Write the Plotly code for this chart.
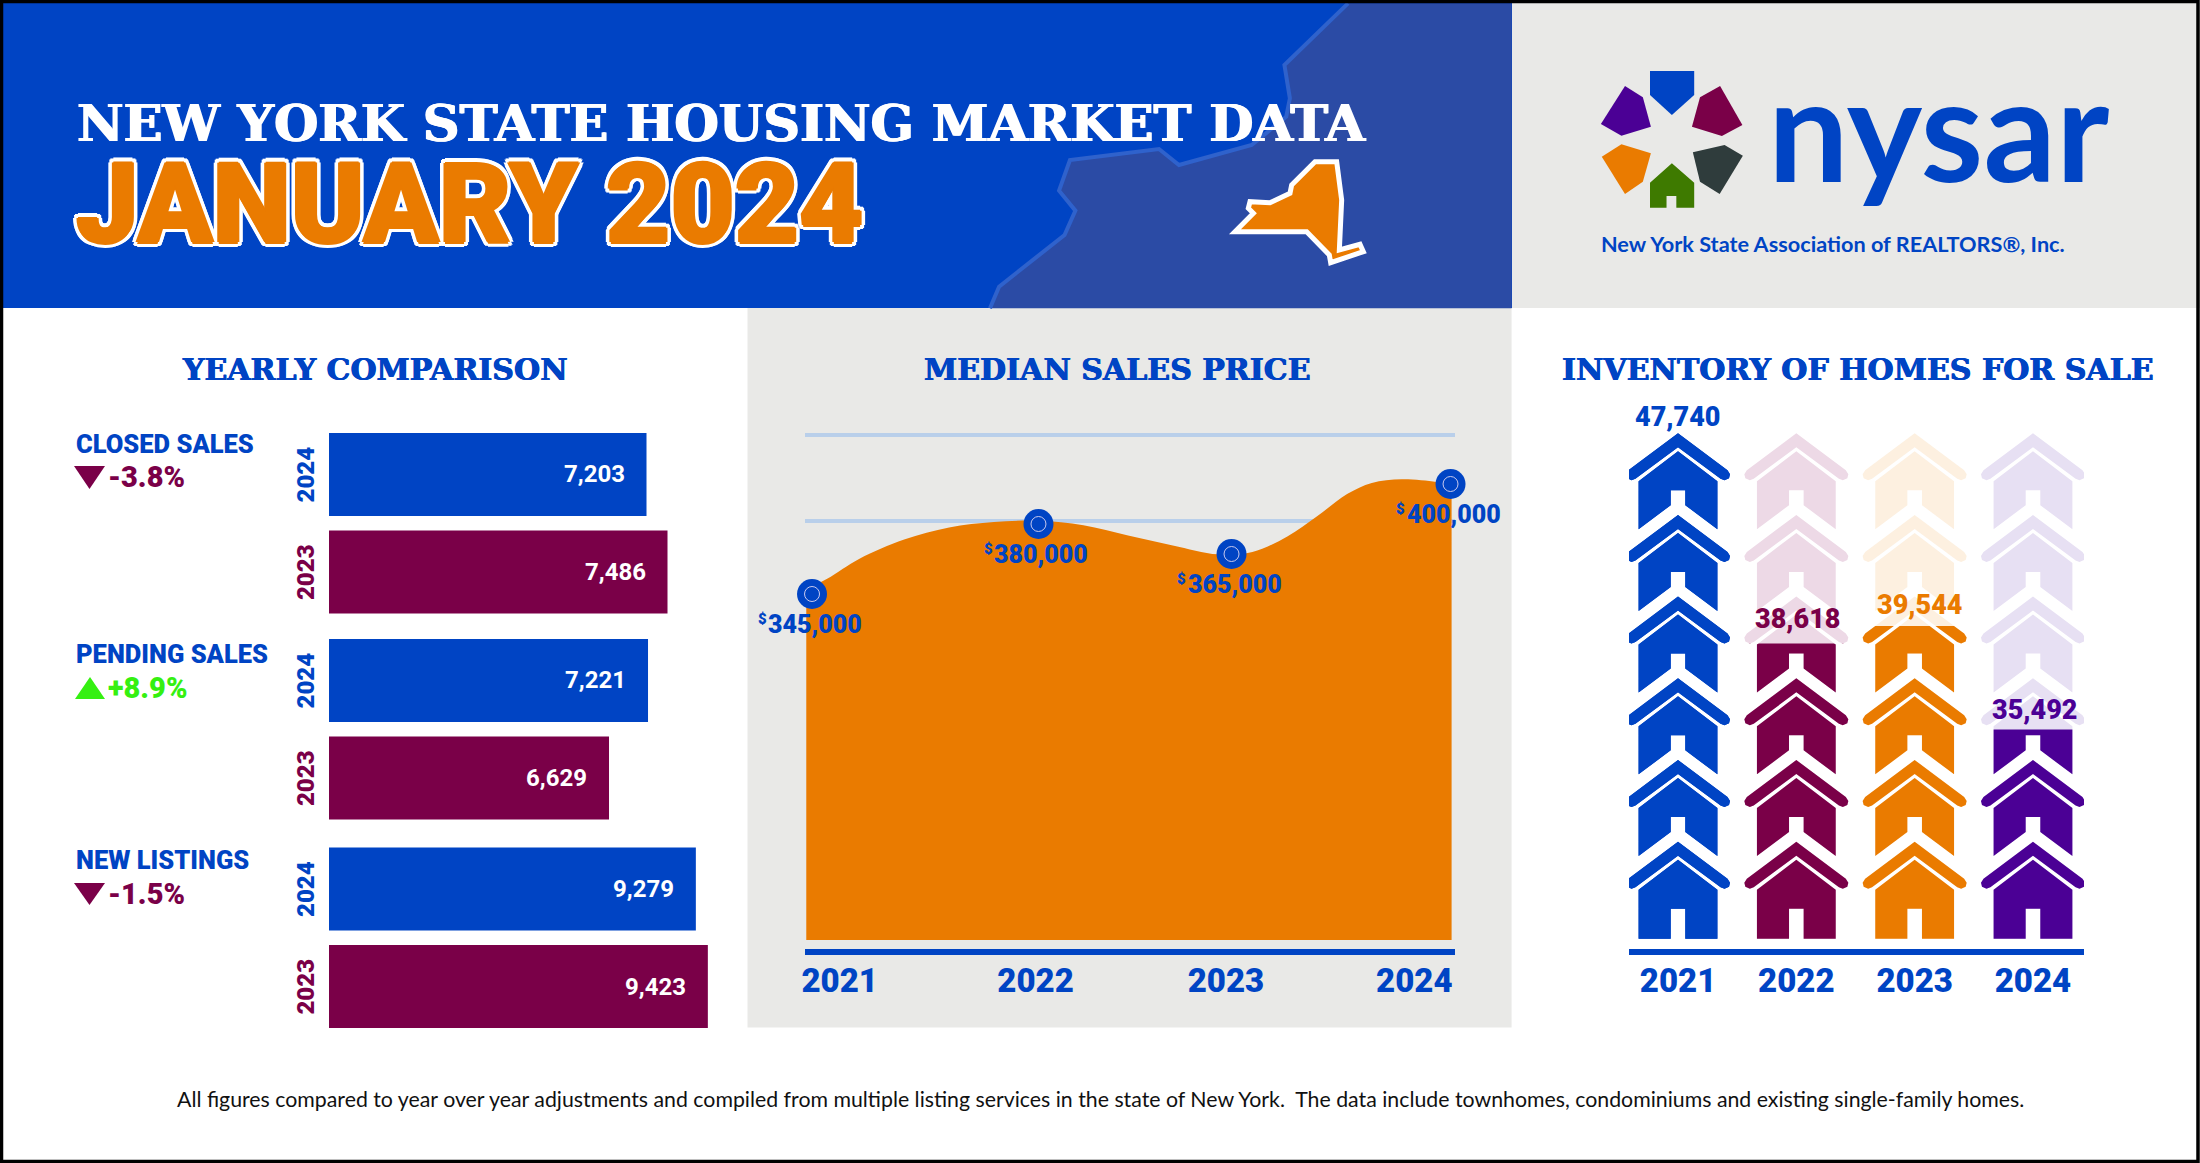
import plotly.graph_objects as go

# ---------- data ----------
bar_groups = ["CLOSED SALES", "PENDING SALES", "NEW LISTINGS"]
bar_years = [2024, 2023]
values_2024 = [7203, 7221, 9279]
values_2023 = [7486, 6629, 9423]
pct_change = ["-3.8%", "+8.9%", "-1.5%"]

price_years = [2021.0, 2022.064, 2022.971, 2024.0]
price_values = [345000, 380000, 365000, 400000]
price_curve_x = [2020.973, 2021.071, 2021.223, 2021.433, 2021.644, 2021.854, 2022.064, 2022.275, 2022.485,
                 2022.695, 2022.906, 2023.069, 2023.233, 2023.373, 2023.514, 2023.630, 2023.771, 2023.934, 2024.005]
price_curve_y = [347450, 352600, 362625, 372200, 378250, 380950, 381600, 379350, 374250,
                 369300, 364850, 366000, 373800, 383850, 395000, 400550, 402350, 401000, 399500]
price_tick_pos = [2021.13, 2022.05, 2022.945, 2023.83]
year_labels = ["2021", "2022", "2023", "2024"]

inv_years = [2021, 2022, 2023, 2024]
inv_values = [47740, 38618, 39544, 35492]

# ---------- styles ----------
BLUE, MAROON, ORANGE, PURPLE = "#0044C4", "#7A0048", "#EA7B00", "#4B0095"
GREEN = "#35F011"
GRAY = "#E9E9E7"
DARKBLUE = "#2B4BA5"
EDGE = "#2F62CC"
FADED = ["#0044C4", "#EDD9E6", "#FDF0E0", "#E7E0F3"]
INV_COL = [BLUE, MAROON, ORANGE, PURPLE]
W, H = 2200, 1163
SLAB = "DejaVu Serif"
HEAVY = "Roboto"


def px(x):
    return x / W


def py(y):
    return 1 - y / H


shapes, anns = [], []


def poly(pts, fill, line=None, lw=0, layer="below", close=True):
    d = "M" + " L".join(f"{px(x):.5f},{py(y):.5f}" for x, y in pts) + (" Z" if close else "")
    shapes.append(dict(type="path", path=d, xref="paper", yref="paper", fillcolor=fill, layer=layer,
                       line=dict(color=line or fill, width=lw)))


def rect(x0, y0, x1, y1, fill):
    poly([(x0, y0), (x1, y0), (x1, y1), (x0, y1)], fill)


def ann(text, x, y, size, color, family=HEAVY, weight=900, anchor="center", **kw):
    anns.append(dict(text=text, x=px(x), y=py(y), xref="paper", yref="paper", showarrow=False,
                     xanchor=anchor, yanchor="middle", borderpad=0,
                     font=dict(size=size, color=color, family=family, weight=weight, **kw.pop("fontkw", {})), **kw))


def thick(color, d=0.7):
    return f"{d}px 0 0 {color}, -{d}px 0 0 {color}"


# ---------- header ----------
rect(0, 3, 1512, 308, BLUE)
rect(1512, 3, 2200, 308, GRAY)
rect(747.5, 308, 1511.6, 1027.5, GRAY)
state_edge = [(1095, 10), (920, 195), (935, 295), (925, 350), (830, 435), (630, 495), (575, 447), (330, 480), (300, 572),
              (345, 632), (315, 705), (135, 860), (110, 925)]
state_big = state_edge + [(1545, 925), (1545, 10)]
poly([(950 + a / 2.751, b / 3) for a, b in state_big], DARKBLUE)
poly([(950 + a / 2.751, b / 3) for a, b in state_edge], "rgba(0,0,0,0)", EDGE, 4, close=False)
ny = [(345, 35), (410, 35), (425, 150), (418, 300), (480, 283), (490, 305), (392, 338), (388, 315), (320, 245), (105, 245),
      (160, 190), (145, 175), (150, 155), (210, 158), (270, 130), (275, 105)]
poly([(1200 + a / 3, 150 + b / 3) for a, b in ny], ORANGE, "white", 5)

inner = [(1.5, 0), (-1.5, 0), (0, 1.5), (0, -1.5)]
outer = [(5, 0), (-5, 0), (0, 5), (0, -5), (4, 3), (-4, 3), (4, -3), (-4, -3), (3, 4), (-3, 4), (3, -4), (-3, -4)]
outline = ", ".join([f"{a}px {b}px 0 {ORANGE}" for a, b in inner] + [f"{a}px {b}px 0 #fff" for a, b in outer])
ann("NEW YORK STATE HOUSING MARKET DATA", 76, 123, 51, "white", SLAB, 700, "left", fontkw=dict(shadow=thick("#fff", 0.8)))
ann("JANUARY 2024", 75, 204, 111, ORANGE, HEAVY, 900, "left", fontkw=dict(shadow=outline))

# ---------- logo ----------
def logo(pts, c):
    poly([(1500 + a / 2.24, b / 3) for a, b in pts], c)


logo([(336, 213), (435, 213), (435, 285), (385, 345), (336, 285)], BLUE)
logo([(280, 258), (320, 292), (338, 380), (272, 407), (226, 372)], PURPLE)
logo([(493, 258), (543, 375), (497, 408), (430, 380), (448, 292)], MAROON)
logo([(272, 433), (338, 460), (320, 545), (280, 582), (228, 470)], ORANGE)
logo([(503, 435), (544, 467), (492, 582), (448, 545), (432, 457)], "#2F3C3C")
logo([(385, 490), (435, 548), (435, 623), (395, 623), (395, 588), (373, 588), (373, 623), (336, 623), (336, 548)], "#3E7A00")
ann("nysar", 1767, 127, 143, BLUE, "Lato", 700, "left")
ann("New York State Association of REALTORS®, Inc.", 1600, 244, 21.7, BLUE, "Lato", 700, "left")

# ---------- section titles ----------
for title, cx in [("YEARLY COMPARISON", 375), ("MEDIAN SALES PRICE", 1117), ("INVENTORY OF HOMES FOR SALE", 1858)]:
    ann(title, cx, 369, 30, BLUE, SLAB, 700, fontkw=dict(shadow=thick(BLUE, 0.5)))

# ---------- yearly comparison ----------
fig = go.Figure()
layout = {}
GROUP_START = [2924, 2380, 4875]
GROUP_SCALE = [0.0742, 0.0659, 0.0833]
GROUP_CENTER = [523.25, 729.25, 937.75]
LABEL_Y = [444, 653.5, 859.5]
ARROW_Y = [(466, 489), (677, 699), (883, 905)]
for i in range(3):
    ax = i + 1 if i else ""
    vals = [values_2024[i], values_2023[i]]
    fig.add_trace(go.Bar(y=bar_years, x=vals, orientation="h", width=0.85, marker=dict(color=[BLUE, MAROON], line_width=0),
                         xaxis=f"x{ax}", yaxis=f"y{ax}", hoverinfo="skip", showlegend=False))
    c = GROUP_CENTER[i]
    layout[f"xaxis{ax}"] = dict(domain=[px(329), px(720)], range=[GROUP_START[i], GROUP_START[i] + 391 / GROUP_SCALE[i]],
                                visible=False, anchor=f"y{ax}", automargin=False)
    layout[f"yaxis{ax}"] = dict(domain=[py(c + 97.6), py(c - 97.6)], range=[2022.5, 2024.5], anchor=f"x{ax}",
                                visible=False, automargin=False)
    for v, yr, col in zip(vals, bar_years, [BLUE, MAROON]):
        anns.append(dict(text=f"{v:,}", x=v, y=yr, xref=f"x{ax}", yref=f"y{ax}", showarrow=False, xanchor="right", xshift=-20,
                         font=dict(size=24, color="white", family=HEAVY, weight=700)))
        anns.append(dict(text=str(yr), x=0, y=yr, xref="paper", yref=f"y{ax}", showarrow=False, xanchor="center", yanchor="middle",
                         xshift=306, textangle=-90, font=dict(size=24, color=col, family=HEAVY, weight=900)))
    ann(bar_groups[i], 75, LABEL_Y[i], 25.5, BLUE, HEAVY, 900, "left")
    y0, y1 = ARROW_Y[i]
    up = pct_change[i].startswith("+")
    col = GREEN if up else MAROON
    poly([(75, y1), (105, y1), (90, y0)] if up else [(74, y0), (105, y0), (89.5, y1)], col)
    ann(pct_change[i], 107, (y0 + y1) / 2, 29, col, HEAVY, 900, "left")

# ---------- median price ----------
PRICE_TOP, PRICE_BOTTOM, PRICE_BASE = 432000, 167500, 172000
fig.add_trace(go.Scatter(x=[price_curve_x[0], price_curve_x[-1]], y=[PRICE_BASE, PRICE_BASE], mode="lines", line=dict(width=0),
                         xaxis="x4", yaxis="y4", hoverinfo="skip", showlegend=False))
fig.add_trace(go.Scatter(x=price_curve_x, y=price_curve_y, mode="lines", fill="tonexty", fillcolor=ORANGE,
                         line=dict(width=0, shape="spline", smoothing=1), xaxis="x4", yaxis="y4", hoverinfo="skip", showlegend=False))
fig.add_trace(go.Scatter(x=price_years, y=price_values, mode="markers", cliponaxis=False,
                         marker=dict(size=30, color=BLUE), xaxis="x4", yaxis="y4", hoverinfo="skip", showlegend=False))
fig.add_trace(go.Scatter(x=price_years, y=price_values, mode="markers", cliponaxis=False,
                         marker=dict(size=15, color="rgba(0,0,0,0)", line=dict(width=1, color="#C9C9EE")),
                         xaxis="x4", yaxis="y4", hoverinfo="skip", showlegend=False))
layout["xaxis4"] = dict(domain=[px(805), px(1455)], range=[2020.967, 2024.021], anchor="y4", tickmode="array",
                        tickvals=price_tick_pos, ticktext=year_labels, showgrid=False, zeroline=False, ticks="",
                        showline=True, linecolor=BLUE, linewidth=6, automargin=False, ticklabelstandoff=-3,
                        tickfont=dict(size=33, family=HEAVY, weight=900, color=BLUE))
layout["yaxis4"] = dict(domain=[py(949), py(420)], range=[PRICE_BOTTOM, PRICE_TOP], anchor="x4", tickmode="array",
                        tickvals=[381500, 424700], showticklabels=False, showgrid=True, gridcolor="#B9CFEA", gridwidth=4,
                        zeroline=False, ticks="", showline=False, automargin=False)
for yr, v in zip(price_years, price_values):
    anns.append(dict(text=f"{v:,}", x=yr, y=v, xref="x4", yref="y4", showarrow=False, yshift=-30, xshift=3,
                     font=dict(size=25, color=BLUE, family=HEAVY, weight=900)))
    anns.append(dict(text="$", x=yr, y=v, xref="x4", yref="y4", showarrow=False, yshift=-25, xshift=-50,
                     font=dict(size=15, color=BLUE, family=HEAVY, weight=900)))

# ---------- inventory pictogram ----------
COL_STEP = 118.33
HOUSE_APEX = [841.7, 760, 678.3, 596.6, 514.9, 433.2]
INV_LEVEL_VAL = [35492, 38618, 39544, 47740]
INV_LEVEL_PX = [729.4, 643.5, 626, 433]


def house(year, apex, bottom):
    """One house glyph around a column (offsets are in screen pixels)."""
    roof = [(0, 0), (49.5, 37), (52, 41), (51, 45), (46.5, 47), (42.6, 45.5), (0, 14),
            (-42.6, 45.5), (-46.5, 47), (-51, 45), (-52, 41), (-49.5, 37)]
    if bottom:
        body = [(0, 18), (39.4, 48), (39.4, 97), (7.3, 97), (7.3, 67), (-7.3, 67), (-7.3, 97), (-39.4, 97), (-39.4, 48)]
    else:
        body = [(0, 18), (39.4, 48), (39.4, 96), (7.3, 72), (7.3, 57), (-7.3, 57), (-7.3, 72), (-39.4, 96), (-39.4, 48)]
    xs, ys = [], []
    for part in (roof, body):
        xs += [year + a / COL_STEP for a, b in part] + [year + part[0][0] / COL_STEP, None]
        ys += [apex + b for a, b in part] + [apex + part[0][1], None]
    return xs, ys


def column(year):
    xs, ys = [], []
    for k, apex in enumerate(HOUSE_APEX):
        a, b = house(year, apex, k == 0)
        xs += a
        ys += b
    return xs, ys


def level_px(v):
    for (v0, p0), (v1, p1) in zip(zip(INV_LEVEL_VAL, INV_LEVEL_PX), zip(INV_LEVEL_VAL[1:], INV_LEVEL_PX[1:])):
        if v <= v1:
            return p0 + (v - v0) * (p1 - p0) / (v1 - v0)
    return INV_LEVEL_PX[-1]


X_RANGE = [2021 - (1678 - 1629) / COL_STEP, 2021 + (2084 - 1678) / COL_STEP]
for j, yr in enumerate(inv_years):
    xs, ys = column(yr)
    fig.add_trace(go.Scatter(x=xs, y=ys, mode="lines", fill="toself", fillcolor=FADED[j], line=dict(width=0),
                             xaxis="x5", yaxis="y5", hoverinfo="skip", showlegend=False))
layout["xaxis5"] = dict(domain=[px(1629), px(2084)], range=X_RANGE, anchor="y5", tickmode="array", tickvals=inv_years,
                        ticktext=year_labels, showgrid=False, zeroline=False, ticks="", showline=True, linecolor=BLUE, linewidth=6,
                        automargin=False, ticklabelstandoff=-3, tickfont=dict(size=33, family=HEAVY, weight=900, color=BLUE))
layout["yaxis5"] = dict(domain=[py(949), py(420)], range=[949, 420], anchor="x5", visible=False, automargin=False)
for j, (yr, v) in enumerate(zip(inv_years, inv_values)):
    xs, ys = column(yr)
    lv = level_px(v)
    n = 6 + j
    fig.add_trace(go.Scatter(x=xs, y=ys, mode="lines", fill="toself", fillcolor=INV_COL[j], line=dict(width=0),
                             xaxis=f"x{n}", yaxis=f"y{n}", hoverinfo="skip", showlegend=False))
    layout[f"xaxis{n}"] = dict(domain=[px(1629), px(2084)], range=X_RANGE, anchor=f"y{n}", visible=False, automargin=False)
    layout[f"yaxis{n}"] = dict(domain=[py(949), py(lv)], range=[949, lv], anchor=f"x{n}", visible=False, automargin=False)
    ann(f"{v:,}", 1678 + (yr - 2021) * COL_STEP + [0, 2, 5, 2][j], lv - [16, 25, 21, 19][j], 27, INV_COL[j], HEAVY, 900)

# ---------- footnote and frame ----------
ann("All figures compared to year over year adjustments and compiled from multiple listing services in the state of New York.  "
    "The data include townhomes, condominiums and existing single-family homes.", 1100, 1098.5, 21.3, "#111111", "Lato", 400)
shapes.append(dict(type="rect", xref="paper", yref="paper", x0=px(1.5), x1=px(2198), y0=py(1.5), y1=py(1161.5),
                   line=dict(color="black", width=3.5), fillcolor="rgba(0,0,0,0)", layer="above"))

fig.update_layout(template="none", width=W, height=H, margin=dict(l=0, r=0, t=0, b=0), paper_bgcolor="white",
                  plot_bgcolor="rgba(0,0,0,0)", shapes=shapes, annotations=anns, showlegend=False, **layout)
fig.write_html("out.html", config=dict(displayModeBar=False),
               post_script="document.body.style.margin='0';document.body.style.overflow='hidden';")
